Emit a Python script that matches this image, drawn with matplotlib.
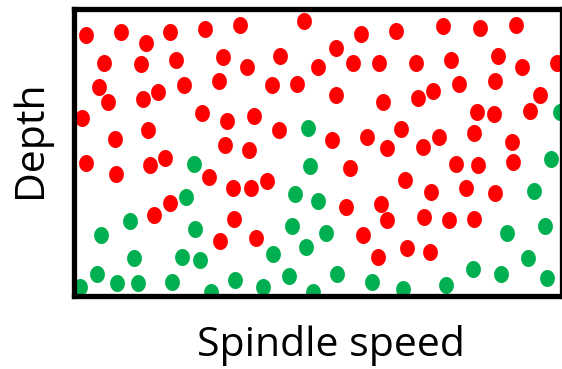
import matplotlib
matplotlib.use('Agg')
import numpy as np
import matplotlib.pyplot as plt
from matplotlib.path import Path

# spindle speed / depth samples (arbitrary units)
red_speed = [12, 47, 72, 96, 131, 30, 67, 102, 149, 25, 34, 69, 84, 110, 145, 8, 128, 153, 41, 74, 151,
             166, 230, 287, 322, 173, 206, 262, 244, 279, 305, 198, 223, 262, 309, 180, 205, 258, 293, 175, 313,
             369, 406, 442, 342, 377, 424, 448, 483, 385, 421, 359, 344, 466, 403, 420, 456, 327, 365, 400, 438, 349,
             12, 42, 76, 91, 135, 96, 80, 146,
             276, 159, 177, 193, 272, 307, 160, 313, 182, 289, 304,
             382, 404, 439, 331, 357, 392, 421, 350, 375, 400, 333, 356]
red_depth = [261, 264, 253, 264, 267, 233, 232, 236, 239, 209, 194, 197, 204, 211, 215, 178, 183, 175, 157, 166, 151,
             271, 275, 262, 265, 229, 240, 248, 229, 233, 233, 211, 212, 201, 194, 180, 166, 156, 159, 146, 148,
             270, 268, 271, 233, 236, 240, 229, 233, 212, 215, 205, 198, 201, 184, 182, 185, 167, 159, 163, 154, 149,
             133, 122, 131, 138, 119, 93, 81, 55,
             128, 108, 108, 115, 89, 92, 77, 76, 58, 61, 39,
             132, 131, 134, 116, 104, 108, 103, 79, 76, 77, 48, 44]

green_speed = [234, 120, 112, 56, 27, 121, 60, 108, 126, 23, 6, 43, 64, 98, 137,
               236, 221, 244, 218, 252, 232, 199, 161, 189, 215, 263, 239, 298,
               477, 460, 433, 471, 454, 399, 427, 473, 329, 372, 486]
green_depth = [168, 132, 99, 75, 61, 67, 38, 39, 36, 22, 9, 13, 13, 14, 4,
               130, 102, 95, 70, 63, 49, 42, 16, 9, 20, 22, 4, 14,
               137, 105, 63, 70, 38, 27, 22, 18, 7, 11, 184]

plt.rcParams['font.family'] = ['Open Sans', 'DejaVu Sans']

# slightly tall elliptical dot
t = np.linspace(0, 2 * np.pi, 60)
dot = Path(np.column_stack([0.87 * np.cos(t), np.sin(t)]), closed=True)

fig = plt.figure(figsize=(5.62, 3.69), dpi=100)
ax = fig.add_axes([73.5 / 562, (369 - 295.5) / 369, 488 / 562, 287 / 369])

ax.scatter(red_speed, red_depth, s=150, marker=dot, color='#ff0000', linewidths=0, zorder=1)
ax.scatter(green_speed, green_depth, s=150, marker=dot, color='#00b050', linewidths=0, zorder=1)

ax.set_xlim(0, 487)
ax.set_ylim(0, 288)
ax.set_xticks([])
ax.set_yticks([])
for sp in ax.spines.values():
    sp.set_linewidth(3.8)
    sp.set_color('black')

fig.text(331 / 562, 1 - 346 / 369, 'Spindle speed', fontsize=29.5, ha='center', va='center')
fig.text(31 / 562, 1 - 139 / 369, 'Depth', fontsize=29.5, ha='center', va='center', rotation=90)

fig.savefig('out.png', dpi=100)
